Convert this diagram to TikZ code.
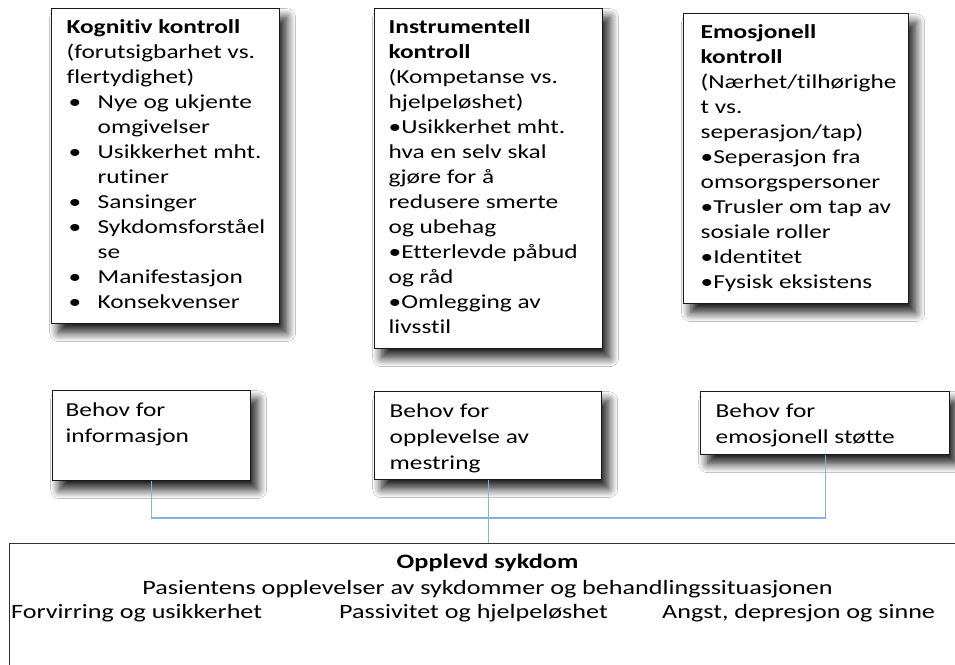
\documentclass[tikz,border=0pt]{standalone}
\usepackage{fontspec}
\setmainfont{Carlito}[FakeStretch=1.28, Ligatures={NoCommon,NoRequired}, RawFeature=-liga]
\usetikzlibrary{positioning,shadows.blur}

\definecolor{linkblue}{RGB}{130,178,226}

% text of a box: fixed height, fixed width, one line per row
\newcommand{\boxtxt}[3]{\parbox[t][#1][t]{#2}{\begin{tabular}[t]{@{}l@{}}#3\end{tabular}}}
\newcommand{\itm}{\makebox[31pt][l]{\hspace{2pt}•}}
\newcommand{\cnt}{\hspace*{31pt}}

\tikzset{
  ctrl/.style={draw=black!90, line width=1.3pt, fill=white, anchor=north west,
    inner xsep=#1, inner ysep=7.5pt, font=\fontsize{19.8}{25}\selectfont,
    blur shadow={shadow xshift=7pt, shadow yshift=-9pt, shadow blur radius=9pt,
      shadow blur steps=14, shadow opacity=90}},
  need/.style={ctrl=#1, inner ysep=8pt, font=\fontsize{19.8}{26}\selectfont},
  link/.style={draw=linkblue, line width=1.1pt},
  illtext/.style={anchor=base, inner sep=0pt, font=\fontsize{20.4}{25}\selectfont},
}

\begin{document}
\begin{tikzpicture}[x=1pt,y=-1pt]
  \useasboundingbox[fill=white] (0,0) rectangle (955,664);

  % three kinds of control
  \node[ctrl=15pt] (kog) at (51,8) {\boxtxt{300pt}{198pt}{%
    \textbf{Kognitiv kontroll}\\
    (forutsigbarhet vs.\\
    flertydighet)\\
    \itm Nye og ukjente\\
    \cnt omgivelser\\
    \itm Usikkerhet mht.\\
    \cnt rutiner\\
    \itm Sansinger\\
    \itm Sykdomsforståel\\
    \cnt se\\
    \itm Manifestasjon\\
    \itm Konsekvenser}};

  \node[ctrl=14pt] (ins) at (374,8) {\boxtxt{325pt}{200pt}{%
    \textbf{Instrumentell}\\
    \textbf{kontroll}\\
    (Kompetanse vs.\\
    hjelpeløshet)\\
    •Usikkerhet mht.\\
    hva en selv skal\\
    gjøre for å\\
    redusere smerte\\
    og ubehag\\
    •Etterlevde påbud\\
    og råd\\
    •Omlegging av\\
    livsstil}};

  \node[ctrl=17pt] (emo) at (683,13) {\boxtxt{275pt}{191pt}{%
    \textbf{Emosjonell}\\
    \textbf{kontroll}\\
    (Nærhet/tilhørighe\\
    t vs.\\
    seperasjon/tap)\\
    •Seperasjon fra\\
    omsorgspersoner\\
    •Trusler om tap av\\
    sosiale roller\\
    •Identitet\\
    •Fysisk eksistens}};

  % needs
  \node[need=13pt] (bA) at (52,390) {\boxtxt{74pt}{172pt}{Behov for\\ informasjon}};
  \node[need=15pt] (bB) at (374,391) {\boxtxt{72pt}{197pt}{Behov for\\ opplevelse av\\ mestring}};
  \node[need=15pt] (bC) at (700,391) {\boxtxt{47pt}{219pt}{Behov for\\ emosjonell støtte}};

  % experienced illness
  \node[draw=black!80, line width=1.3pt, anchor=north west, minimum width=980pt,
    minimum height=160pt] (ill) at (9,543) {};
  \node[illtext, font=\fontsize{20.5}{25}\bfseries] (illhead) at (487.5,568) {Opplevd sykdom};
  \node[illtext] (illsub) at (487.5,594) {Pasientens opplevelser av sykdommer og behandlingssituasjonen};
  \node[illtext, anchor=base west] (ill1) at (11,618) {Forvirring og usikkerhet};
  \node[illtext, anchor=base west] (ill2) at (339,618) {Passivitet og hjelpeløshet};
  \node[illtext, anchor=base west] (ill3) at (662,618) {Angst, depresjon og sinne};

  % connectors
  \coordinate (bus) at (487.5,518);
  \draw[link] (bA.south) |- (bus) -| (bC.south);
  \draw[link] (bB.south) -- (bB.south |- ill.north);
\end{tikzpicture}
\end{document}
